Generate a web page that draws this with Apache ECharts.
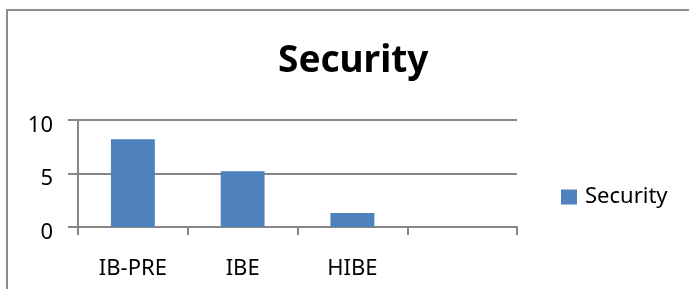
<!DOCTYPE html>
<html>
<head>
<meta charset="utf-8">
<script src="https://cdn.jsdelivr.net/npm/echarts@6/dist/echarts.min.js"></script>
<style>html,body{margin:0;padding:0;background:#fff;}#c{width:689px;height:289px;}</style>
</head>
<body>
<div id="c"></div>
<script>
const categories = ['IB-PRE', 'IBE', 'HIBE', ''];
const securityValues = [8.2, 5.2, 1.3, null];
const yTicks = [0, 5, 10];
const seriesName = 'Security';
const titleText = 'Security';

const chart = echarts.init(document.getElementById('c'), null, {renderer: 'canvas'});
const gray = '#868686';
const font = 'Noto Sans';
chart.setOption({
  animation: false,
  backgroundColor: '#fff',
  title: {
    text: titleText,
    left: 273, top: 38,
    textStyle: {fontFamily: font, fontWeight: 'bold', fontSize: 37, color: '#000'}
  },
  legend: {
    data: [seriesName],
    left: 556, top: 181,
    icon: 'rect', itemWidth: 16, itemHeight: 15, itemGap: 10,
    textStyle: {fontFamily: font, fontSize: 22, color: '#000', padding: [0, 0, 0, 3]}
  },
  grid: {left: 78, right: 172, top: 120, bottom: 62, containLabel: false},
  xAxis: {
    type: 'category',
    data: categories,
    boundaryGap: true,
    axisLine: {lineStyle: {color: gray, width: 2}},
    axisTick: {show: true, length: 8, lineStyle: {color: gray, width: 2}},
    axisLabel: {margin: 31, fontFamily: font, fontSize: 22, color: '#000'},
    splitLine: {show: false}
  },
  yAxis: {
    type: 'value',
    min: yTicks[0], max: yTicks[yTicks.length - 1], interval: yTicks[1] - yTicks[0],
    axisLine: {show: true, lineStyle: {color: gray, width: 2}},
    axisTick: {show: true, length: 10, lineStyle: {color: gray, width: 2}},
    axisLabel: {
      margin: 25, color: '#000',
      formatter: '{v|{value}}',
      rich: {v: {fontFamily: font, fontSize: 22, color: '#000', padding: [11, 0, 0, 0]}}
    },
    splitLine: {show: true, lineStyle: {color: gray, width: 2}}
  },
  series: [{
    name: seriesName,
    type: 'bar',
    data: securityValues,
    barWidth: '40%',
    itemStyle: {color: '#4F81BD'}
  }],
  graphic: [
    {type: 'line', shape: {x1: 7, y1: 10, x2: 7, y2: 289}, style: {stroke: '#8c8c8c', lineWidth: 2}},
    {type: 'line', shape: {x1: 6, y1: 10, x2: 689, y2: 10}, style: {stroke: '#8c8c8c', lineWidth: 2}}
  ]
});
</script>
</body>
</html>
